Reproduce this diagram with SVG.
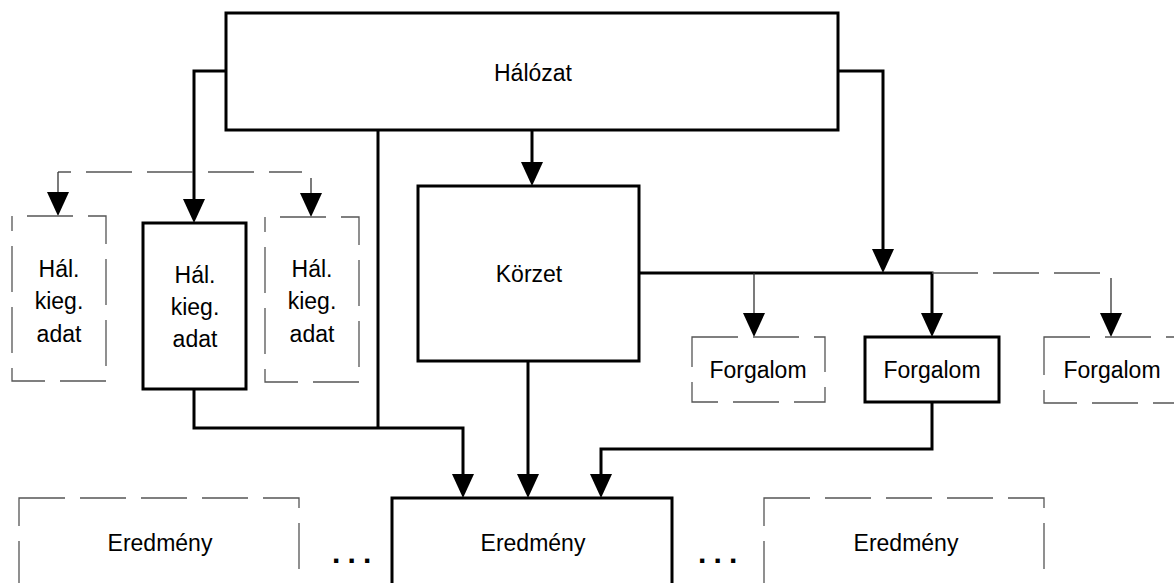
<svg xmlns="http://www.w3.org/2000/svg" width="1174" height="583" viewBox="0 0 1174 583">
<style>
  .box{fill:#fff;stroke:#000;stroke-width:3}
  .dbox{fill:#fff;stroke:#555;stroke-width:1.3;stroke-dasharray:46 15}
  .lbl{font-family:"Liberation Sans",Arial,sans-serif;font-size:23px;fill:#000;text-anchor:middle}
  .c{fill:none;stroke:#000;stroke-width:3}
  .ct{fill:none;stroke:#333;stroke-width:1.3}
  .cd{fill:none;stroke:#555;stroke-width:1.3;stroke-dasharray:46 15}
  .dots{font-family:"Liberation Sans",Arial,sans-serif;font-size:30px;font-weight:bold;letter-spacing:7.2px;fill:#000}
</style>
<defs>
  <marker id="ah" viewBox="0 0 24 22" refX="18" refY="11" markerWidth="24" markerHeight="22" markerUnits="userSpaceOnUse" orient="auto">
    <path d="M0,0 L24,11 L0,22 Z" fill="#000"/>
  </marker>
</defs>
<rect width="1174" height="583" fill="#fff"/>

<g id="connectors">
  <path class="c" d="M226,71 H194 V217" marker-end="url(#ah)"/>
  <path class="c" d="M532,130 V180" marker-end="url(#ah)"/>
  <path class="c" d="M838,71 H883 V267" marker-end="url(#ah)"/>
  <path class="c" d="M639,273 H932 V331" marker-end="url(#ah)"/>
  <path class="ct" d="M754,273 V331" marker-end="url(#ah)"/>
  <path class="cd" d="M932,273 H1101"/>
  <path class="ct" d="M1111,278 V331" marker-end="url(#ah)"/>
  <path class="cd" d="M58,172 H302" style="stroke-dashoffset:33"/>
  <path class="ct" d="M58,172 V210" marker-end="url(#ah)"/>
  <path class="ct" d="M311,178 V211" marker-end="url(#ah)"/>
  <path class="c" d="M194,389 V428 H463 V492" marker-end="url(#ah)"/>
  <path class="c" d="M378,130 V428"/>
  <path class="c" d="M528,361 V492" marker-end="url(#ah)"/>
  <path class="c" d="M932,402 V449 H601 V492" marker-end="url(#ah)"/>
</g>

<g id="halozat">
  <rect class="box" x="226" y="13" width="612" height="117"/>
  <text class="lbl" x="533" y="81">Hálózat</text>
</g>
<g id="halkieg-left">
  <rect class="dbox" x="12" y="216" width="94" height="165" style="stroke-dashoffset:-15"/>
  <text class="lbl" x="59" y="277">Hál.</text>
  <text class="lbl" x="59" y="309">kieg.</text>
  <text class="lbl" x="59" y="342">adat</text>
</g>
<g id="halkieg-main">
  <rect class="box" x="143" y="223" width="103" height="166"/>
  <text class="lbl" x="195" y="283">Hál.</text>
  <text class="lbl" x="195" y="315">kieg.</text>
  <text class="lbl" x="195" y="347">adat</text>
</g>
<g id="halkieg-right">
  <rect class="dbox" x="265" y="217" width="94" height="165" style="stroke-dashoffset:-15"/>
  <text class="lbl" x="312" y="277">Hál.</text>
  <text class="lbl" x="312" y="309">kieg.</text>
  <text class="lbl" x="312" y="342">adat</text>
</g>
<g id="korzet">
  <rect class="box" x="418" y="186" width="221" height="175"/>
  <text class="lbl" x="529" y="282">Körzet</text>
</g>
<g id="forgalom-left">
  <rect class="dbox" x="692" y="337" width="133" height="65"/>
  <text class="lbl" x="758" y="378">Forgalom</text>
</g>
<g id="forgalom-main">
  <rect class="box" x="865" y="337" width="134" height="65"/>
  <text class="lbl" x="932" y="378">Forgalom</text>
</g>
<g id="forgalom-right">
  <rect class="dbox" x="1044" y="337" width="136" height="66"/>
  <text class="lbl" x="1112" y="378">Forgalom</text>
</g>
<g id="eredmeny-left">
  <rect class="dbox" x="19" y="498" width="280" height="100"/>
  <text class="lbl" x="160" y="551">Eredmény</text>
</g>
<g id="eredmeny-main">
  <rect class="box" x="392" y="498" width="280" height="100"/>
  <text class="lbl" x="533" y="551">Eredmény</text>
</g>
<g id="eredmeny-right">
  <rect class="dbox" x="764" y="498" width="280" height="100"/>
  <text class="lbl" x="906" y="551">Eredmény</text>
</g>
<g id="ellipsis-left">
  <text class="dots" x="332" y="563">...</text>
</g>
<g id="ellipsis-right">
  <text class="dots" x="698" y="563">...</text>
</g>
</svg>
